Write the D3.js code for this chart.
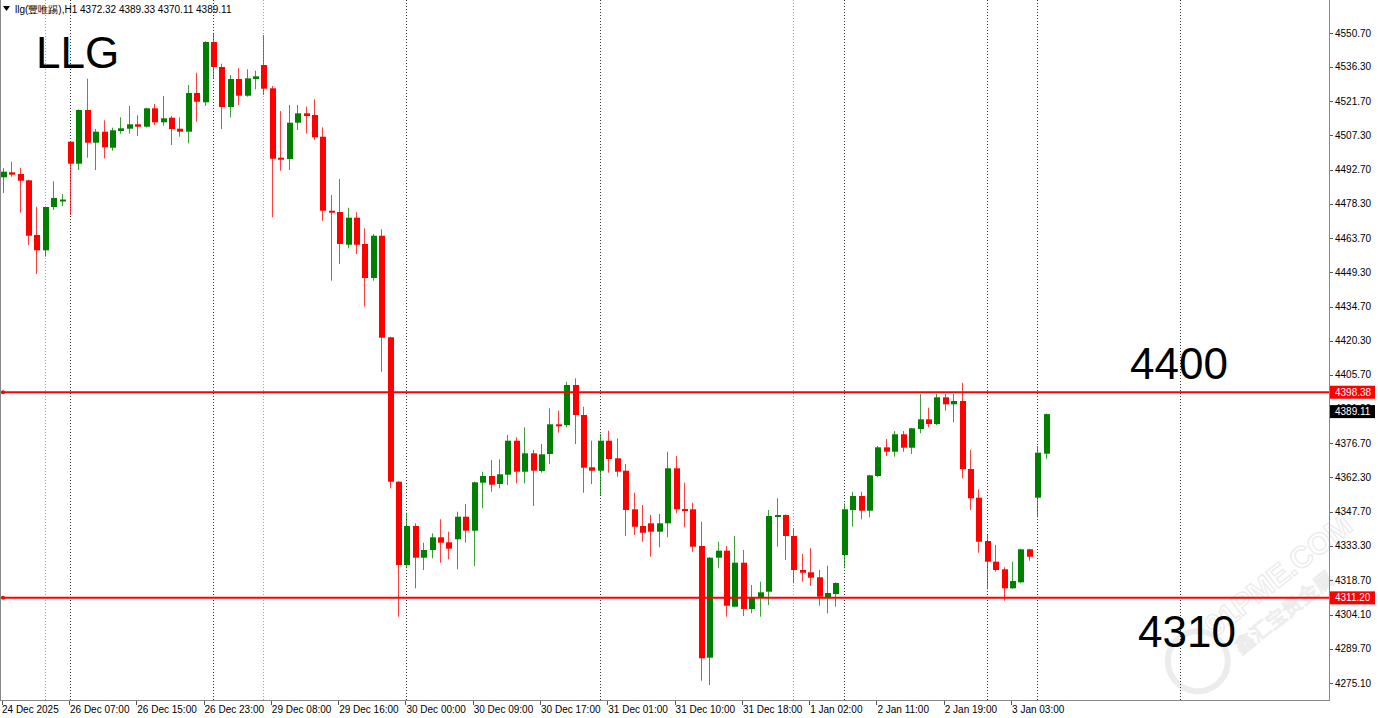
<!DOCTYPE html>
<html><head><meta charset="utf-8">
<script src="https://cdn.jsdelivr.net/npm/d3@7/dist/d3.min.js"></script>
<style>
html,body{margin:0;padding:0;background:#fff;}
svg{display:block;}
</style></head>
<body>
<svg id="chart" width="1378" height="718"></svg>
<script>
// ---- data (H1 candles, LLG) ----
const opens = [4489.51,4491.63,4490.91,4488.24,4465.05,4458.56,4476.92,4479.47,4504.61,4495.28,
4518.05,4504.19,4508.85,4502.07,4509.15,4510.12,4511.99,4510.97,4518.77,4512.83,
4514.79,4510.12,4508.85,4525.26,4521.31,4546.88,4536.28,4519.32,4531.19,4524.11,
4531.19,4537.13,4527.25,4497.83,4497.27,4512.67,4516.65,4515.93,4506.73,4475.35,
4474.80,4460.94,4472.39,4461.23,4446.82,4464.75,4421.68,4360.45,4325.13,4341.67,
4328.23,4331.49,4336.87,4334.75,4336.03,4345.61,4339.67,4360.03,4362.87,4359.47,
4363.42,4377.83,4364.69,4372.49,4364.99,4372.19,4384.79,4384.49,4401.45,4388.73,
4366.56,4365.11,4377.83,4370.37,4365.11,4348.75,4341.67,4342.81,4339.25,4342.81,
4366.13,4348.87,4348.75,4333.19,4285.83,4328.23,4331.19,4307.45,4326.11,4306.47,
4311.27,4313.81,4345.78,4346.33,4337.43,4323.01,4322.04,4319.92,4311.43,4312.83,
4329.37,4348.45,4354.39,4348.15,4362.87,4375.03,4373.17,4380.55,4374.87,4382.79,
4386.91,4384.91,4396.23,4393.27,4394.67,4365.83,4353.67,4335.31,4326.53,4323.31,
4315.25,4317.79,4331.79,4353.67,4372.32];
const highs = [4493.46,4496.13,4493.59,4488.50,4477.05,4477.20,4487.82,4482.43,4504.90,4518.30,
4531.32,4509.99,4513.68,4510.55,4514.95,4519.75,4515.80,4519.00,4520.59,4523.99,
4515.51,4514.95,4528.65,4533.87,4547.20,4550.57,4537.68,4532.89,4535.73,4535.31,
4534.71,4549.85,4528.23,4517.63,4520.17,4520.17,4519.45,4522.59,4510.71,4482.01,
4488.79,4476.63,4474.67,4467.89,4465.47,4467.47,4421.90,4360.70,4347.31,4342.81,
4334.59,4338.57,4344.51,4339.25,4347.73,4350.99,4360.50,4364.69,4369.65,4369.95,
4380.25,4379.27,4383.51,4373.89,4376.43,4391.57,4390.55,4402.85,4404.29,4392.25,
4377.83,4380.67,4382.07,4378.85,4367.95,4355.79,4350.57,4346.33,4346.75,4373.17,
4371.35,4360.03,4351.55,4343.49,4328.50,4335.01,4333.19,4337.43,4331.49,4316.65,
4318.05,4348.45,4353.41,4346.60,4340.69,4329.79,4332.21,4323.01,4324.83,4317.80,
4351.29,4356.21,4356.21,4363.40,4375.59,4378.55,4381.95,4381.95,4383.30,4397.63,
4391.83,4397.63,4397.63,4397.63,4402.43,4373.89,4357.23,4337.85,4333.61,4324.15,
4326.53,4332.00,4332.00,4375.59,4389.33];
const lows = [4482.86,4489.77,4474.51,4460.81,4448.51,4455.85,4475.65,4477.35,4473.53,4492.61,
4497.83,4492.61,4497.57,4500.79,4508.00,4508.00,4507.03,4510.70,4511.69,4511.39,
4503.21,4506.73,4503.93,4513.09,4519.75,4531.49,4509.99,4514.95,4520.17,4523.69,
4526.83,4524.41,4472.55,4492.31,4492.61,4509.57,4508.17,4505.33,4471.11,4445.67,
4452.75,4459.41,4456.99,4434.65,4445.67,4407.09,4357.65,4303.21,4323.73,4315.25,
4323.01,4327.97,4326.11,4327.55,4323.31,4334.59,4324.71,4349.17,4356.21,4357.65,
4359.05,4359.77,4359.77,4350.15,4364.27,4367.95,4381.23,4383.51,4376.43,4355.79,
4359.47,4354.81,4364.27,4362.57,4337.43,4337.85,4335.01,4328.65,4332.63,4336.87,
4347.05,4341.11,4330.77,4276.07,4274.25,4323.73,4303.21,4307.19,4303.51,4304.65,
4303.21,4308.17,4332.89,4327.25,4317.37,4318.05,4316.23,4307.87,4304.65,4307.45,
4323.73,4341.37,4344.51,4345.35,4362.30,4371.35,4371.05,4373.17,4372.19,4380.97,
4383.51,4384.49,4390.55,4385.63,4361.89,4348.45,4330.35,4314.83,4322.29,4309.99,
4315.00,4317.37,4326.95,4345.35,4370.11];
const closes = [4491.89,4490.62,4488.07,4464.75,4458.56,4476.92,4480.74,4480.10,4495.28,4518.05,
4504.19,4508.85,4502.23,4509.44,4510.29,4511.99,4510.97,4518.77,4512.83,4514.53,
4509.99,4508.85,4525.26,4521.57,4546.88,4536.28,4519.32,4531.19,4524.11,4531.49,
4532.34,4527.08,4497.40,4497.40,4512.67,4516.65,4515.51,4506.47,4475.35,4474.51,
4461.23,4472.39,4460.94,4446.82,4464.75,4421.51,4360.45,4325.13,4341.67,4328.23,
4331.49,4336.87,4334.59,4332.04,4345.61,4339.67,4360.19,4362.87,4359.18,4363.59,
4377.83,4364.69,4372.49,4365.11,4372.07,4384.79,4384.07,4401.45,4388.73,4366.39,
4365.11,4377.83,4370.07,4364.69,4348.45,4341.37,4338.83,4339.25,4342.81,4366.13,
4348.75,4348.45,4332.89,4285.57,4328.23,4331.19,4307.87,4326.11,4306.47,4311.27,
4313.55,4345.91,4346.33,4337.43,4323.01,4321.87,4319.75,4311.69,4313.26,4317.50,
4348.75,4354.39,4348.15,4363.16,4375.03,4373.17,4380.55,4374.87,4383.09,4386.91,
4384.91,4396.23,4393.27,4394.67,4365.83,4353.41,4335.01,4326.53,4323.01,4315.25,
4318.35,4331.79,4328.65,4372.75,4389.11];

const timeLabels = ["24 Dec 2025","26 Dec 07:00","26 Dec 15:00","26 Dec 23:00","29 Dec 08:00",
"29 Dec 16:00","30 Dec 00:00","30 Dec 09:00","30 Dec 17:00","31 Dec 01:00","31 Dec 10:00",
"31 Dec 18:00","1 Jan 02:00","2 Jan 11:00","2 Jan 19:00","3 Jan 03:00"];
const timeLabelIdx = [0,8,16,24,32,40,48,56,64,72,80,88,96,104,112,120];
const priceTicks = [4550.70,4536.30,4521.70,4507.30,4492.70,4478.30,4463.70,4449.30,4434.70,4420.30,
4405.70,4391.30,4376.70,4362.30,4347.70,4333.30,4318.70,4304.10,4289.70,4275.10];
const separatorsDark = [8,25,48,71,100,117,123,140];
const separatorsLight = [5,31,94];
const levels = [4398.38, 4311.20];
const levelTexts = ["4400","4310"];
const lastPrice = 4389.11;
const header = "llg(豐唯踢),H1  4372.32 4389.33 4370.11 4389.11";

// ---- layout ----
const svg = d3.select("#chart");
const plotR = 1329, plotB = 700;
const x = d3.scaleLinear().domain([0,124]).range([2.7,1045.7]);
const y = d3.scaleLinear().domain([4275.1,4550.7]).range([683,33]);
const GREEN = "#008000", RED = "#ff0000";
const font = "'Liberation Sans', Arial, sans-serif";

svg.append("rect").attr("x",0).attr("y",0).attr("width",1378).attr("height",718).attr("fill","#fff");

// watermark
const wm = svg.append("g").attr("transform","translate(1240,608) rotate(-38)").attr("opacity",0.13);
wm.append("circle").attr("cx",-66).attr("cy",16).attr("r",30).attr("fill","none").attr("stroke","#777").attr("stroke-width",6);
wm.append("text").attr("x",-38).attr("y",8).attr("font-family",font).attr("font-size",30).attr("font-weight","bold")
  .attr("fill","#fff").attr("stroke","#777").attr("stroke-width",1.5).text("91PME.COM");
wm.append("text").attr("x",-28).attr("y",38).attr("font-family","'Noto Sans CJK SC'").attr("font-size",20)
  .attr("fill","#fff").attr("stroke","#777").attr("stroke-width",1.2).text("鑫汇宝贵金属");

// separators
svg.append("g").selectAll("line").data(separatorsLight).join("line")
  .attr("x1",d=>Math.round(x(d))+0.5).attr("x2",d=>Math.round(x(d))+0.5)
  .attr("y1",0).attr("y2",plotB).attr("stroke","#a0a0a0").attr("stroke-dasharray","1,2");
svg.append("g").selectAll("line").data(separatorsDark).join("line")
  .attr("x1",d=>Math.round(x(d))+0.5).attr("x2",d=>Math.round(x(d))+0.5)
  .attr("y1",0).attr("y2",plotB).attr("stroke","#333").attr("stroke-dasharray","1,2");

// candles
const idx = d3.range(opens.length);
const g = svg.append("g");
g.selectAll("line.wick").data(idx).join("line").attr("class","wick")
  .attr("x1",i=>Math.round(x(i))+0.5).attr("x2",i=>Math.round(x(i))+0.5)
  .attr("y1",i=>y(highs[i])).attr("y2",i=>y(lows[i]))
  .attr("stroke",i=>closes[i]>=opens[i]?GREEN:RED).attr("stroke-width",1).attr("opacity",0.75);
g.selectAll("rect.body").data(idx).join("rect").attr("class","body")
  .attr("x",i=>Math.round(x(i))-2).attr("width",6)
  .attr("y",i=>y(Math.max(opens[i],closes[i])))
  .attr("height",i=>Math.max(2,Math.abs(y(opens[i])-y(closes[i]))))
  .attr("fill",i=>closes[i]>=opens[i]?GREEN:RED);

// level lines
svg.append("g").selectAll("line").data(levels).join("line")
  .attr("x1",0).attr("x2",plotR).attr("y1",d=>y(d)).attr("y2",d=>y(d))
  .attr("stroke",RED).attr("stroke-width",2);
svg.append("g").selectAll("circle").data(levels).join("circle")
  .attr("cx",3).attr("cy",d=>y(d)).attr("r",2).attr("fill",RED);

// frame & axes
svg.append("line").attr("x1",0.5).attr("x2",0.5).attr("y1",0).attr("y2",plotB).attr("stroke","#888");
svg.append("line").attr("x1",plotR+0.5).attr("x2",plotR+0.5).attr("y1",0).attr("y2",plotB+1).attr("stroke","#888");
svg.append("line").attr("x1",0).attr("x2",plotR+1).attr("y1",plotB+0.5).attr("y2",plotB+0.5).attr("stroke","#888");

// price axis
const pa = svg.append("g");
pa.selectAll("line").data(priceTicks).join("line")
  .attr("x1",plotR+1).attr("x2",plotR+4).attr("y1",d=>Math.round(y(d))+0.5).attr("y2",d=>Math.round(y(d))+0.5)
  .attr("stroke","#555");
pa.selectAll("text").data(priceTicks).join("text")
  .attr("x",plotR+6).attr("y",d=>y(d)).attr("dy","0.35em")
  .attr("font-family",font).attr("font-size",10).attr("fill","#000")
  .text(d=>d.toFixed(2));

// level price tags
const tags = svg.append("g");
levels.forEach(v=>{
  tags.append("rect").attr("x",plotR+1).attr("y",y(v)-6.5).attr("width",45).attr("height",13).attr("fill",RED);
  tags.append("text").attr("x",plotR+6).attr("y",y(v)).attr("dy","0.35em").attr("font-family",font)
    .attr("font-size",10).attr("fill","#fff").text(v.toFixed(2));
});
tags.append("rect").attr("x",plotR+1).attr("y",y(lastPrice)-9).attr("width",45).attr("height",13).attr("fill","#000");
tags.append("text").attr("x",plotR+6).attr("y",y(lastPrice)-2.5).attr("dy","0.35em").attr("font-family",font)
  .attr("font-size",10).attr("fill","#fff").text(lastPrice.toFixed(2));

// time axis
const ta = svg.append("g");
ta.selectAll("line").data(timeLabelIdx).join("line")
  .attr("x1",d=>Math.round(x(d))-0.5).attr("x2",d=>Math.round(x(d))-0.5)
  .attr("y1",plotB+1).attr("y2",plotB+5).attr("stroke","#555");
ta.selectAll("text").data(timeLabelIdx).join("text")
  .attr("x",(d,i)=> i===0 ? 2 : x(d)).attr("y",713)
  .attr("font-family",font).attr("font-size",10).attr("fill","#000")
  .text((d,i)=>timeLabels[i]);

// header
svg.append("path").attr("d","M3,6 L10,6 L6.5,11 Z").attr("fill","#000");
svg.append("text").attr("x",15).attr("y",13).attr("font-family",font).attr("font-size",10).attr("fill","#000").text(header);

// big annotations
svg.append("text").attr("x",36).attr("y",68).attr("font-family",font).attr("font-size",44).attr("fill","#000").text("LLG");
svg.append("text").attr("x",1130).attr("y",379).attr("font-family",font).attr("font-size",44).attr("fill","#000").text(levelTexts[0]);
svg.append("text").attr("x",1138).attr("y",647).attr("font-family",font).attr("font-size",44).attr("fill","#000").text(levelTexts[1]);
</script>
</body></html>
